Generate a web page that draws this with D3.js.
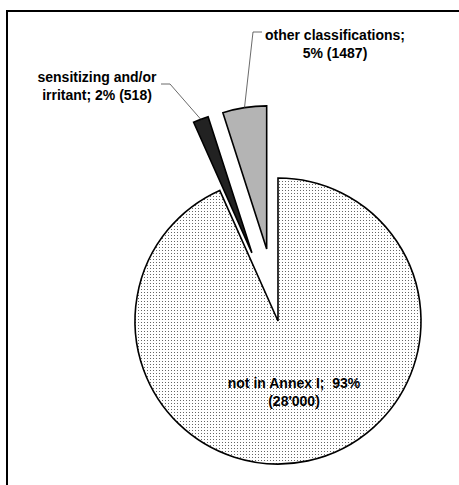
<!DOCTYPE html>
<html>
<head>
<meta charset="utf-8">
<script src="https://cdn.jsdelivr.net/npm/d3@7"></script>
<style>
  body { margin: 0; background: #fff; }
  text { font-family: "Liberation Sans", Arial, sans-serif; font-weight: bold; font-size: 14px; fill: #000; white-space: pre; }
</style>
</head>
<body>
<div id="chart"></div>
<script>
// Data
const categories = ["not in Annex I", "sensitizing and/or irritant", "other classifications"];
const values = [28000, 518, 1487];
const labelLines = [
  ["not in Annex I;  93%", "(28'000)"],
  ["sensitizing and/or", "irritant; 2% (518)"],
  ["other classifications;", "5% (1487)"]
];

const width = 459, height = 485;
const cx = 278, cy = 321, radius = 143, explode = 73;

const svg = d3.select("#chart")
  .append("svg")
  .attr("width", width)
  .attr("height", height);

// dotted fill for the big slice
const defs = svg.append("defs");
const pat = defs.append("pattern")
  .attr("id", "dots")
  .attr("patternUnits", "userSpaceOnUse")
  .attr("width", 3)
  .attr("height", 3);
pat.append("rect").attr("width", 3).attr("height", 3).attr("fill", "#fff");
pat.append("rect").attr("x", 1).attr("y", 1).attr("width", 1).attr("height", 1).attr("fill", "#666");

// frame
svg.append("rect")
  .attr("x", 7).attr("y", 11)
  .attr("width", 470).attr("height", 490)
  .attr("fill", "none")
  .attr("stroke", "#000")
  .attr("stroke-width", 2);

const fills = ["url(#dots)", "#222", "#b4b4b4"];

const pie = d3.pie().sort(null).value(d => d)
  .startAngle(0).endAngle(2 * Math.PI);
const arcs = pie(values);

const arc = d3.arc().innerRadius(0).outerRadius(radius);

const off = (d, i) => {
  if (i === 0) return [0, 0];
  const a = (d.startAngle + d.endAngle) / 2;
  return [explode * Math.sin(a), -explode * Math.cos(a)];
};

const g = svg.append("g").attr("transform", `translate(${cx},${cy})`);

g.selectAll("path.slice")
  .data(arcs)
  .enter()
  .append("path")
  .attr("class", "slice")
  .attr("transform", (d, i) => `translate(${off(d, i)})`)
  .attr("d", arc)
  .attr("fill", (d, i) => fills[i])
  .attr("stroke", "#000")
  .attr("stroke-width", 1.6)
  .attr("stroke-linejoin", "miter");

// labels (positions relative to page)
const labelPos = [[294, 388], [97, 82], [335, 40]];
const lineGap = 18;

labelLines.forEach((lines, i) => {
  const t = svg.append("text")
    .attr("x", labelPos[i][0])
    .attr("y", labelPos[i][1])
    .attr("text-anchor", "middle");
  lines.forEach((l, j) => {
    t.append("tspan")
      .attr("x", labelPos[i][0])
      .attr("dy", j === 0 ? 0 : lineGap)
      .text(l);
  });
});

// leader lines from label to middle of slice edge
const leaderStart = [null, [[161, 84], [170, 84]], [[262, 32], [253, 32]]];
arcs.forEach((d, i) => {
  if (!leaderStart[i]) return;
  const a = (d.startAngle + d.endAngle) / 2;
  const o = off(d, i);
  const end = [cx + o[0] + radius * Math.sin(a), cy + o[1] - radius * Math.cos(a)];
  svg.append("path")
    .attr("d", d3.line()([...leaderStart[i], end]))
    .attr("fill", "none")
    .attr("stroke", "#444")
    .attr("stroke-width", 0.8);
});
</script>
</body>
</html>
